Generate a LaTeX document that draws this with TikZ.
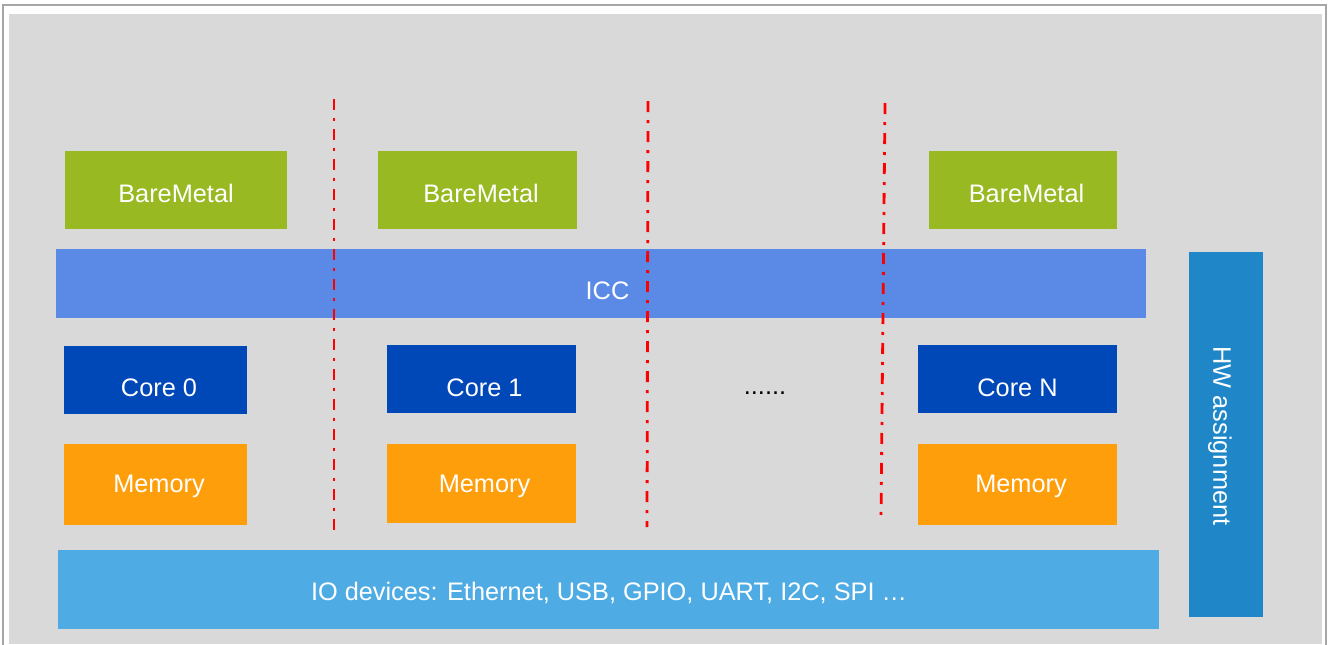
\documentclass[tikz,border=0pt]{standalone}
\usepackage{fontspec}
\setmainfont{Liberation Sans}
\definecolor{bggray}{HTML}{D9D9D9}
\definecolor{framegray}{HTML}{A6A6A6}
\definecolor{bmgreen}{HTML}{98B922}
\definecolor{iccblue}{HTML}{5B8AE6}
\definecolor{coreblue}{HTML}{0047B8}
\definecolor{memorange}{HTML}{FF9E0B}
\definecolor{ioblue}{HTML}{4FABE3}
\definecolor{hwblue}{HTML}{1F87C7}
\definecolor{sepred}{HTML}{FF0000}
\begin{document}
\begin{tikzpicture}[x=0.75pt,y=-0.75pt,
  blk/.style={inner sep=0pt, outer sep=0pt, draw=none},
  txt/.style={inner sep=0pt, outer sep=0pt, text=white, font=\fontsize{19}{23}\selectfont},
  sepline/.style={draw=sepred, line width=2.1pt, dash pattern=on 8.25pt off 6pt on 2.25pt off 6pt}]
\useasboundingbox (0,0) rectangle (1330,644);
\fill[white] (0,0) rectangle (1330,644);
\draw[framegray, line width=1pt] (3,5) rectangle (1326,650);
\fill[bggray] (9,14) rectangle (1322,644);

\node[blk, fill=bmgreen, minimum width=166.5pt, minimum height=58.5pt] (bm1) at (176,190) {};
\node[blk, fill=bmgreen, minimum width=149.25pt, minimum height=58.5pt] (bm2) at (477.5,190) {};
\node[blk, fill=bmgreen, minimum width=141pt, minimum height=58.5pt] (bm3) at (1023,190) {};
\node[txt] (bm1t) at ([shift={(0,3)}]bm1.center) {BareMetal};
\node[txt] (bm2t) at ([shift={(3.5,3)}]bm2.center) {BareMetal};
\node[txt] (bm3t) at ([shift={(3.5,3)}]bm3.center) {BareMetal};

\node[blk, fill=iccblue, minimum width=817.5pt, minimum height=51.75pt] (icc) at (601,283.5) {};
\node[txt] (icct) at ([shift={(6.5,7.5)}]icc.center) {ICC};

\node[blk, fill=coreblue, minimum width=137.25pt, minimum height=51pt] (core0) at (155.5,380) {};
\node[blk, fill=coreblue, minimum width=141.75pt, minimum height=51pt] (core1) at (481.5,379) {};
\node[blk, fill=coreblue, minimum width=149.25pt, minimum height=51pt] (coreN) at (1017.5,379) {};
\node[txt] (core0t) at ([shift={(3.5,8)}]core0.center) {Core 0};
\node[txt] (core1t) at ([shift={(3,9)}]core1.center) {Core 1};
\node[txt] (coreNt) at ([shift={(0,9)}]coreN.center) {Core N};

\node[txt, text=black] (dots) at (765,393.5) {......};

\node[blk, fill=memorange, minimum width=137.25pt, minimum height=60.75pt] (mem0) at (155.5,484.5) {};
\node[blk, fill=memorange, minimum width=141.75pt, minimum height=59.25pt] (mem1) at (481.5,483.5) {};
\node[blk, fill=memorange, minimum width=149.25pt, minimum height=60.75pt] (memN) at (1017.5,484.5) {};
\node[txt] (mem0t) at ([shift={(3.5,2)}]mem0.center) {Memory};
\node[txt] (mem1t) at ([shift={(3,3)}]mem1.center) {Memory};
\node[txt] (memNt) at ([shift={(3.5,2)}]memN.center) {Memory};

\node[blk, fill=ioblue, minimum width=825.75pt, minimum height=59.25pt] (io) at (608.5,589.5) {};
\node[txt] (iot) at ([shift={(0.5,3)}]io.center) {IO devices: Ethernet, USB, GPIO, UART, I2C, SPI …};

\node[blk, fill=hwblue, minimum width=55.5pt, minimum height=273.75pt] (hw) at (1226,434.5) {};
\node[txt, rotate=-90] (hwt) at ([shift={(-6,1.5)}]hw.center) {HW assignment};

\coordinate (s1t) at (334,99);  \coordinate (s1b) at (334,533);
\coordinate (s2t) at (648,101); \coordinate (s2b) at (647,527);
\coordinate (s3t) at (885,103); \coordinate (s3b) at (881,518);
\draw[sepline] (s1t) -- (s1b);
\draw[sepline] (s2t) -- (s2b);
\draw[sepline] (s3t) -- (s3b);
\end{tikzpicture}
\end{document}
